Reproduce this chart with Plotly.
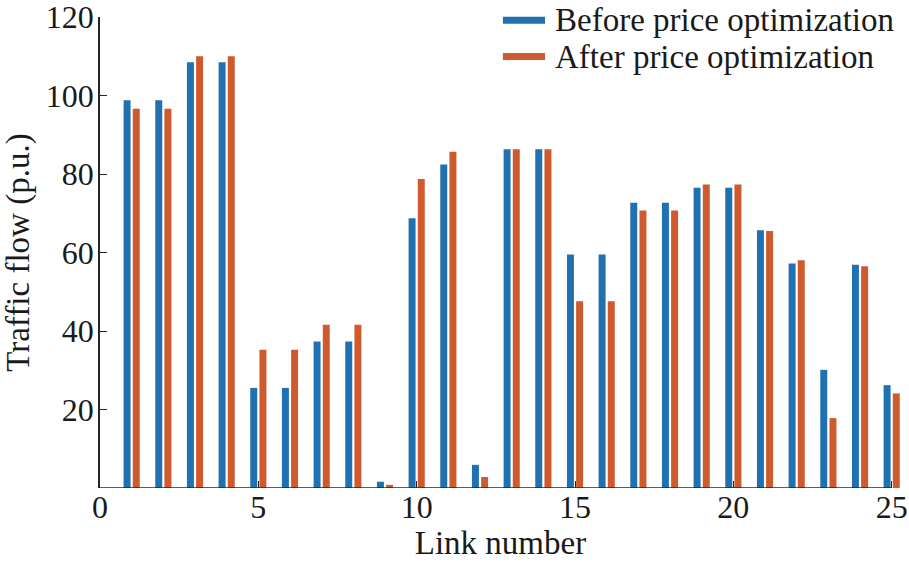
import plotly.graph_objects as go

links = list(range(1, 26))
before = [98.8, 98.8, 108.5, 108.5, 25.5, 25.5, 37.3, 37.3, 1.6, 68.7,
          82.4, 5.9, 86.3, 86.3, 59.5, 59.5, 72.7, 72.7, 76.5, 76.5,
          65.7, 57.2, 30.1, 56.9, 26.2]
after = [96.6, 96.6, 110.0, 110.0, 35.2, 35.2, 41.6, 41.6, 0.8, 78.7,
         85.7, 2.8, 86.3, 86.3, 47.6, 47.6, 70.7, 70.7, 77.3, 77.3,
         65.5, 58.0, 17.8, 56.5, 24.1]
series_names = ["Before price optimization", "After price optimization"]
colors = ["#1f71b1", "#cf5a2e"]
x_ticks = [0, 5, 10, 15, 20, 25]
y_ticks = [20, 40, 60, 80, 100, 120]

FONT = "Liberation Serif, Times New Roman, serif"
AXC = "#262626"

fig = go.Figure()
for name, vals, c in zip(series_names, [before, after], colors):
    fig.add_trace(go.Bar(x=links, y=vals, name=name, marker_color=c,
                         marker_line_width=0, showlegend=False))

# legend drawn as line samples + text
leg_rows = [0.993, 0.916]
shapes = [dict(type="line", xref="x", yref="y", x0=x_ticks[0], x1=x_ticks[-1],
               y0=0, y1=0, line=dict(color=AXC, width=1.5), layer="above")]
annotations = []
for name, c, yy in zip(series_names, colors, leg_rows):
    shapes.append(dict(type="line", xref="paper", yref="paper",
                       x0=0.503, x1=0.5556, y0=yy, y1=yy,
                       line=dict(color=c, width=7)))
    annotations.append(dict(text=name, xref="paper", yref="paper",
                            x=0.565, y=yy, xanchor="left", yanchor="middle",
                            showarrow=False, font=dict(size=33)))

fig.update_layout(
    width=909, height=569,
    margin=dict(l=100, r=8, t=17, b=81),
    paper_bgcolor="white", plot_bgcolor="white",
    barmode="group", bargap=0.42, bargroupgap=0.24,
    font=dict(family=FONT, size=32, color="#1a1a1a"),
    showlegend=False,
    shapes=shapes, annotations=annotations,
    xaxis=dict(range=[0, 25.294], tickvals=x_ticks, ticks="inside", ticklen=7,
               tickcolor=AXC, showline=False,
               showgrid=False, zeroline=False, automargin=False,
               ticklabeloverflow="allow", ticklabelstandoff=-3,
               title=dict(text="Link number", standoff=2, font=dict(size=33)),
               tickfont=dict(size=32)),
    yaxis=dict(range=[0, 120], tickvals=y_ticks, ticks="inside", ticklen=7,
               tickcolor=AXC, showline=True, linecolor=AXC, linewidth=1.5,
               showgrid=False, zeroline=False, automargin=False,
               ticklabeloverflow="allow", ticklabelstandoff=-2,
               title=dict(text="Traffic flow (p.u.)", standoff=8, font=dict(size=33)),
               tickfont=dict(size=32)),
)

fig.write_html("out.html", config={"displayModeBar": False},
               post_script="document.body.style.margin='0';document.body.style.overflow='hidden';")
